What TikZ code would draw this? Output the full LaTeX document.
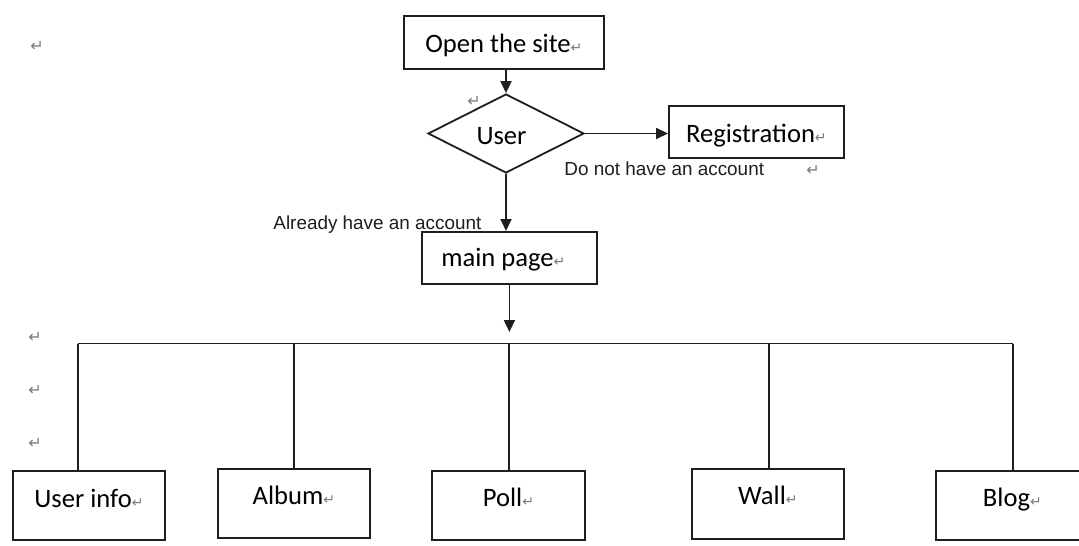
\documentclass[tikz,border=0pt]{standalone}
\usepackage{fontspec}
\setmainfont{Carlito}
\newfontfamily\notefont{Liberation Sans}
\newfontfamily\symfont{DejaVu Sans}
\usetikzlibrary{shapes.geometric,arrows.meta}
\definecolor{ink}{HTML}{1E1E1E}
\definecolor{markgray}{HTML}{7A7A7A}
% paragraph mark after a label
\newcommand\pmark{{\symfont\fontsize{7}{7}\selectfont\color{markgray}↵}}

\begin{document}
\begin{tikzpicture}[x=0.5pt,y=-0.5pt,
  box/.style={draw=ink,line width=0.9pt,inner sep=0pt,anchor=north west,
    font=\fontsize{13.3}{16}\selectfont},
  decision/.style={draw=ink,line width=0.9pt,diamond,inner sep=0pt,
    minimum width=78pt,minimum height=39.5pt},
  lbl/.style={inner sep=0pt,anchor=base,font=\fontsize{13.3}{16}\selectfont},
  note/.style={inner sep=0pt,anchor=base west,text=ink,
    font=\notefont\fontsize{9.45}{11}\selectfont},
  pm/.style={inner sep=0pt,text=markgray,font=\symfont\fontsize{8}{8}\selectfont},
  arr/.style={draw=ink,line width=0.9pt,-{Triangle[length=6pt,width=5.5pt]}},
  wire/.style={draw=ink,line width=0.9pt}
]
\useasboundingbox (0,0) rectangle (1079,545);
\clip (0,0) rectangle (1079,545);

% upper part of the flow
\node[box,minimum width=100pt,minimum height=26.5pt,text height=18.5pt,text depth=8pt]
  (open) at (403,15) {Open the site\pmark};
\node[decision] (user) at (506,133.5) {};
\node[lbl] (userlbl) at (501.5,145) {User};
\node[box,minimum width=87.5pt,minimum height=26pt,text height=18.5pt,text depth=7.5pt]
  (reg) at (668,105) {Registration\pmark};
\node[box,minimum width=87.5pt,minimum height=26pt,text height=17.5pt,text depth=8.5pt]
  (main) at (421,231) {main page\pmark\hspace*{6pt}};

\node[note] (noacc) at (564,176) {Do not have an account};
\node[note] (hasacc) at (273,229) {Already have an account};

% modules
\node[box,minimum width=76pt,minimum height=34.5pt,text height=18.5pt,text depth=16pt]
  (info) at (12,470) {User info\pmark};
\node[box,minimum width=76pt,minimum height=34.5pt,text height=18pt,text depth=16.5pt]
  (album) at (217,468) {Album\pmark};
\node[box,minimum width=76.5pt,minimum height=34.5pt,text height=18pt,text depth=16.5pt]
  (poll) at (431,470) {Poll\pmark};
\node[box,minimum width=76pt,minimum height=35pt,text height=18pt,text depth=17pt]
  (wall) at (691,468) {Wall\pmark};
\node[box,minimum width=76.5pt,minimum height=34.5pt,text height=18pt,text depth=16.5pt]
  (blog) at (935,470) {Blog\pmark};

% connectors
\draw[arr] (user.north |- open.south) -- (user.north);
\draw[arr] (user.east) -- (user.east -| reg.west);
\draw[arr] (user.south) -- (user.south |- main.north);
\coordinate (tip) at (508.5,332);
\draw[arr] (main.south) -- (main.south |- tip);

\coordinate (b1) at (78,343.5);
\coordinate (b2) at (294,343.5);
\coordinate (b3) at (509,343.5);
\coordinate (b4) at (769,343.5);
\coordinate (b5) at (1013,343.5);
\draw[wire] (b1) -- (b5);
\draw[wire] (b1) -- (b1 |- info.north);
\draw[wire] (b2) -- (b2 |- album.north);
\draw[wire] (b3) -- (b3 |- poll.north);
\draw[wire] (b4) -- (b4 |- wall.north);
\draw[wire] (b5) -- (b5 |- blog.north);

% loose paragraph marks
\node[pm] (m1) at (37,46) {↵};
\node[pm] (m2) at (474,101) {↵};
\node[pm] (m3) at (813,170) {↵};
\node[pm] (m4) at (35,337) {↵};
\node[pm] (m5) at (35,390) {↵};
\node[pm] (m6) at (35,443) {↵};
\end{tikzpicture}
\end{document}
